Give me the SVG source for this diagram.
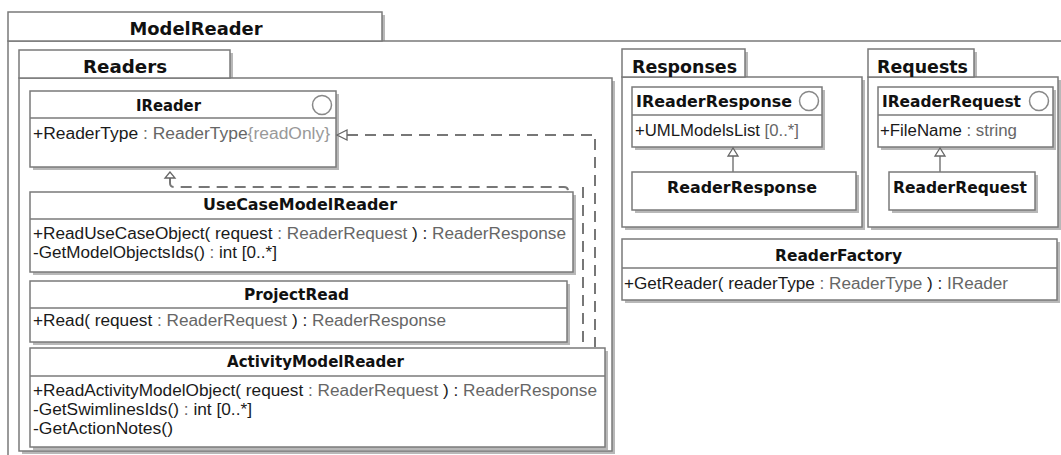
<svg xmlns="http://www.w3.org/2000/svg" width="1061" height="455" viewBox="0 0 1061 455">
<style>
.sh{fill:#b8b8b8}
.bx{fill:#fff;stroke:#7a7a7a;stroke-width:1.5}
.ln{stroke:#7a7a7a;stroke-width:1.5;fill:none}
.tri{fill:#fff;stroke:#666;stroke-width:1.3}
.cir{fill:#fff;stroke:#888;stroke-width:1.5}
.dash{stroke:#777;stroke-width:2;stroke-dasharray:11 7;fill:none}
.pt{font-family:"DejaVu Sans",Verdana,sans-serif;font-weight:bold;font-size:18px;fill:#111}
.t{font-family:"DejaVu Sans",Verdana,sans-serif;font-weight:bold;font-size:15px;fill:#111}
.m{font-family:"Liberation Sans",Arial,sans-serif;font-size:16px;fill:#1a1a1a}
.g{fill:#666}
.lg{fill:#999}
</style>
<rect width="1061" height="455" fill="#fff"/>

<g id="pkg-modelreader">
<rect class="sh" x="11" y="15" width="374" height="29"/>
<rect class="bx" x="8" y="41" width="1070" height="440"/>
<rect class="bx" x="8" y="12" width="374" height="29"/>
<text class="pt" x="196" y="35" text-anchor="middle" textLength="133" lengthAdjust="spacingAndGlyphs">ModelReader</text>
</g>

<g id="pkg-readers">
<rect class="sh" x="22" y="53" width="211" height="28"/>
<rect class="sh" x="22" y="81" width="593" height="373"/>
<rect class="bx" x="19" y="78" width="593" height="373"/>
<rect class="bx" x="19" y="50" width="211" height="28"/>
<text class="pt" x="125" y="73" text-anchor="middle" textLength="84" lengthAdjust="spacingAndGlyphs">Readers</text>
</g>

<g id="ireader">
<rect class="sh" x="33" y="94" width="306" height="76"/>
<rect class="bx" x="30" y="91" width="306" height="76"/>
<line class="ln" x1="30" y1="118" x2="336" y2="118"/>
<circle class="cir" cx="322" cy="105" r="9.5"/>
<text class="t" x="168.5" y="111" text-anchor="middle" textLength="65" lengthAdjust="spacingAndGlyphs">IReader</text>
<text class="m" x="33" y="139" textLength="297" lengthAdjust="spacingAndGlyphs">+ReaderType<tspan class="g"> : ReaderType</tspan><tspan class="lg">{readOnly}</tspan></text>
</g>

<g id="usecasemodelreader">
<rect class="sh" x="33" y="195" width="543" height="80"/>
<rect class="bx" x="30" y="192" width="543" height="80"/>
<line class="ln" x1="30" y1="219" x2="573" y2="219"/>
<text class="t" x="300" y="210" text-anchor="middle" textLength="194" lengthAdjust="spacingAndGlyphs">UseCaseModelReader</text>
<text class="m" x="33" y="239" textLength="533" lengthAdjust="spacingAndGlyphs">+ReadUseCaseObject( request<tspan class="g"> : ReaderRequest</tspan> ) : <tspan class="g">ReaderResponse</tspan></text>
<text class="m" x="33" y="258" textLength="244" lengthAdjust="spacingAndGlyphs">-GetModelObjectsIds()<tspan class="g"> : </tspan>int [0..*]</text>
</g>

<g id="projectread">
<rect class="sh" x="33" y="284" width="537" height="61"/>
<rect class="bx" x="30" y="281" width="537" height="61"/>
<line class="ln" x1="30" y1="308" x2="567" y2="308"/>
<text class="t" x="296.5" y="300" text-anchor="middle" textLength="105" lengthAdjust="spacingAndGlyphs">ProjectRead</text>
<text class="m" x="33" y="326" textLength="413" lengthAdjust="spacingAndGlyphs">+Read( request<tspan class="g"> : ReaderRequest</tspan> ) : <tspan class="g">ReaderResponse</tspan></text>
</g>

<g id="activitymodelreader">
<rect class="sh" x="33" y="351" width="575" height="99"/>
<rect class="bx" x="30" y="348" width="575" height="99"/>
<line class="ln" x1="30" y1="376" x2="605" y2="376"/>
<text class="t" x="315.5" y="367" text-anchor="middle" textLength="177" lengthAdjust="spacingAndGlyphs">ActivityModelReader</text>
<text class="m" x="33" y="396" textLength="564" lengthAdjust="spacingAndGlyphs">+ReadActivityModelObject( request<tspan class="g"> : ReaderRequest</tspan> ) : <tspan class="g">ReaderResponse</tspan></text>
<text class="m" x="33" y="415" textLength="219" lengthAdjust="spacingAndGlyphs">-GetSwimlinesIds()<tspan class="g"> : </tspan>int [0..*]</text>
<text class="m" x="33" y="434" textLength="140" lengthAdjust="spacingAndGlyphs">-GetActionNotes()</text>
</g>

<g id="pkg-responses">
<rect class="sh" x="625" y="52" width="123" height="28"/>
<rect class="sh" x="625" y="80" width="240" height="150"/>
<rect class="bx" x="622" y="77" width="240" height="150"/>
<rect class="bx" x="622" y="49" width="123" height="28"/>
<text class="pt" x="632" y="73" textLength="105" lengthAdjust="spacingAndGlyphs">Responses</text>
</g>

<g id="ireaderresponse">
<rect class="sh" x="635" y="90" width="190" height="60"/>
<rect class="bx" x="632" y="87" width="190" height="60"/>
<line class="ln" x1="632" y1="115" x2="822" y2="115"/>
<circle class="cir" cx="809" cy="101" r="9.5"/>
<text class="t" x="636" y="107" textLength="156" lengthAdjust="spacingAndGlyphs">IReaderResponse</text>
<text class="m" x="635" y="136" textLength="164" lengthAdjust="spacingAndGlyphs">+UMLModelsList <tspan class="g">[0..*]</tspan></text>
</g>

<g id="readerresponse">
<rect class="sh" x="635" y="175" width="224" height="38"/>
<rect class="bx" x="632" y="172" width="224" height="38"/>
<text class="t" x="742" y="193" text-anchor="middle" textLength="150" lengthAdjust="spacingAndGlyphs">ReaderResponse</text>
</g>

<g id="pkg-requests">
<rect class="sh" x="871" y="52" width="106" height="28"/>
<rect class="sh" x="871" y="80" width="190" height="150"/>
<rect class="bx" x="868" y="77" width="190" height="150"/>
<rect class="bx" x="868" y="49" width="106" height="28"/>
<text class="pt" x="877" y="73" textLength="91" lengthAdjust="spacingAndGlyphs">Requests</text>
</g>

<g id="ireaderrequest">
<rect class="sh" x="881" y="90" width="175" height="60"/>
<rect class="bx" x="878" y="87" width="175" height="60"/>
<line class="ln" x1="878" y1="115" x2="1053" y2="115"/>
<circle class="cir" cx="1039" cy="101" r="9.5"/>
<text class="t" x="882" y="107" textLength="139" lengthAdjust="spacingAndGlyphs">IReaderRequest</text>
<text class="m" x="880" y="136" textLength="137" lengthAdjust="spacingAndGlyphs">+FileName<tspan class="g"> : string</tspan></text>
</g>

<g id="readerrequest">
<rect class="sh" x="892" y="175" width="146" height="38"/>
<rect class="bx" x="889" y="172" width="146" height="38"/>
<text class="t" x="960" y="193" text-anchor="middle" textLength="134" lengthAdjust="spacingAndGlyphs">ReaderRequest</text>
</g>

<g id="readerfactory">
<rect class="sh" x="625" y="242" width="435" height="61"/>
<rect class="bx" x="622" y="239" width="435" height="61"/>
<line class="ln" x1="622" y1="268" x2="1057" y2="268"/>
<text class="t" x="838.5" y="261" text-anchor="middle" textLength="127" lengthAdjust="spacingAndGlyphs">ReaderFactory</text>
<text class="m" x="624" y="289" textLength="384" lengthAdjust="spacingAndGlyphs">+GetReader( readerType<tspan class="g"> : ReaderType</tspan> ) : <tspan class="g">IReader</tspan></text>
</g>

<g id="connectors">
<path class="dash" d="M170,178 V183 Q170,187 174,187 H564 Q568,187 568,191"/>
<polygon class="tri" points="170,172 165,178 175,178"/>
<path class="dash" d="M583,187 V347"/>
<path class="dash" d="M347,135 H595 V347"/>
<polygon class="tri" points="337,135 347,130 347,140"/>
<line class="ln" x1="733" y1="156" x2="733" y2="172"/>
<polygon class="tri" points="733,148 728,156 738,156"/>
<line class="ln" x1="940" y1="156" x2="940" y2="172"/>
<polygon class="tri" points="940,148 935,156 945,156"/>
</g>
</svg>
